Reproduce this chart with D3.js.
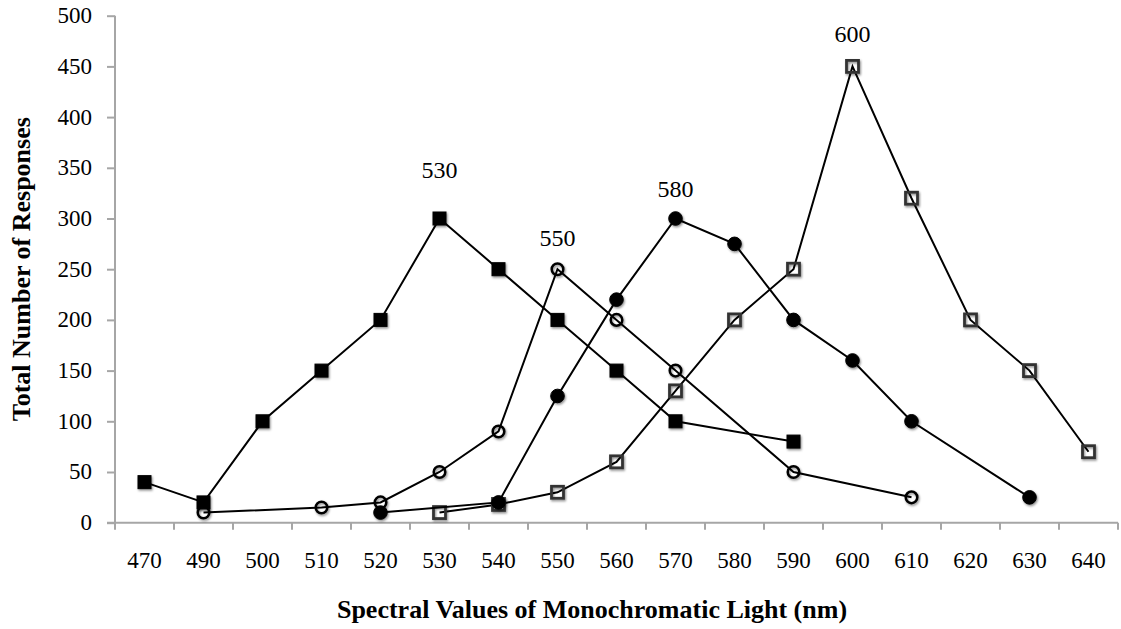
<!DOCTYPE html>
<html>
<head>
<meta charset="utf-8">
<script src="https://cdn.jsdelivr.net/npm/d3@7"></script>
<style>
  html, body { margin: 0; padding: 0; background: #fff; }
  svg { display: block; }
  text { font-family: "Liberation Serif", "Times New Roman", serif; fill: #000; }
</style>
</head>
<body>
<svg id="chart" width="1121" height="629"></svg>
<script>
// Wavelength categories (nm) along the x axis
const categories = ["470","490","500","510","520","530","540","550","560","570","580","590","600","610","620","630","640"];

// Response counts per wavelength; null = not tested (line connects across)
const series530 = [40, 20, 100, 150, 200, 300, 250, 200, 150, 100, null, 80, null, null, null, null, null];
const series550 = [null, 10, null, 15, 20, 50, 90, 250, 200, 150, null, 50, null, 25, null, null, null];
const series600 = [null, null, null, null, null, 10, 18, 30, 60, 130, 200, 250, 450, 320, 200, 150, 70];
const series580 = [null, null, null, null, 10, null, 20, 125, 220, 300, 275, 200, 160, 100, null, 25, null];

const yTicks = [0, 50, 100, 150, 200, 250, 300, 350, 400, 450, 500];

// Series in drawing order, with marker style and peak label
const seriesList = [
  { name: "600", values: series600, marker: "square", filled: false, peak: "600" },
  { name: "550", values: series550, marker: "circle", filled: false, peak: "550" },
  { name: "530", values: series530, marker: "square", filled: true,  peak: "530" },
  { name: "580", values: series580, marker: "circle", filled: true,  peak: "580" }
];

const svg = d3.select("#chart");
const plot = { left: 115, right: 1118, top: 15.7, bottom: 522.7 };

const x = d3.scaleBand().domain(categories).range([plot.left, plot.right]).padding(0);
const y = d3.scaleLinear().domain([0, 500]).range([plot.bottom, plot.top]);

const defs = svg.append("defs");
const shadow = defs.append("filter").attr("id", "mshadow")
  .attr("x", "-50%").attr("y", "-50%").attr("width", "200%").attr("height", "200%");
shadow.append("feDropShadow").attr("dx", 1).attr("dy", 1.5).attr("stdDeviation", 1.2)
  .attr("flood-color", "#000").attr("flood-opacity", 0.45);

const axisColor = "#a6a6a6";

// Y axis
const yAxis = svg.append("g")
  .attr("transform", `translate(${plot.left},0)`)
  .call(d3.axisLeft(y).tickValues(yTicks).tickSize(8).tickPadding(15).tickFormat(d3.format("d")));
yAxis.select(".domain").attr("stroke", axisColor).attr("stroke-width", 2)
  .attr("d", `M0,${plot.top}V${plot.bottom}`);
yAxis.selectAll(".tick line").attr("stroke", axisColor).attr("stroke-width", 2);
yAxis.selectAll(".tick text").attr("font-size", 23).attr("dy", "0.3em")
  .style("font-family", "'Liberation Serif', 'Times New Roman', serif");

// X axis: labels centred in each category band, ticks on band edges
const xAxis = svg.append("g")
  .attr("transform", `translate(0,${plot.bottom})`)
  .call(d3.axisBottom(x).tickSize(0).tickPadding(29));
xAxis.select(".domain").attr("stroke", axisColor).attr("stroke-width", 2)
  .attr("d", `M${plot.left - 8},0H${plot.right}`);
xAxis.selectAll(".tick text").attr("font-size", 23)
  .style("font-family", "'Liberation Serif', 'Times New Roman', serif");

const edges = categories.map(c => x(c)).concat([x(categories[categories.length - 1]) + x.bandwidth()]);
xAxis.selectAll(".edge").data(edges).enter().append("line")
  .attr("class", "edge")
  .attr("x1", d => d).attr("x2", d => d)
  .attr("y1", 0).attr("y2", 7)
  .attr("stroke", axisColor).attr("stroke-width", 2);

// Axis titles
svg.append("text")
  .attr("x", 592).attr("y", 618)
  .attr("text-anchor", "middle")
  .attr("font-size", 26).attr("font-weight", "bold")
  .text("Spectral Values of Monochromatic Light (nm)");

svg.append("text")
  .attr("transform", `translate(30,${(plot.top + plot.bottom) / 2}) rotate(-90)`)
  .attr("text-anchor", "middle")
  .attr("font-size", 26).attr("font-weight", "bold")
  .text("Total Number of Responses");

const cx = c => x(c) + x.bandwidth() / 2;

const line = d3.line().x(d => cx(d.cat)).y(d => y(d.v));

seriesList.forEach(s => {
  const pts = categories.map((c, i) => ({ cat: c, v: s.values[i] })).filter(d => d.v !== null);
  const g = svg.append("g");

  g.append("path")
    .datum(pts)
    .attr("d", line)
    .attr("fill", "none")
    .attr("stroke", "#000")
    .attr("stroke-width", 2);

  const m = g.selectAll(".m").data(pts).enter();
  if (s.marker === "square") {
    const size = s.filled ? 13 : 12;
    m.append("rect")
      .attr("x", d => cx(d.cat) - size / 2)
      .attr("y", d => y(d.v) - size / 2)
      .attr("width", size).attr("height", size)
      .attr("fill", s.filled ? "#000" : "#fff")
      .attr("fill-opacity", s.filled ? 1 : 0)
      .attr("stroke", s.filled ? "#000" : "#333")
      .attr("stroke-width", s.filled ? 1 : 2.8)
      .attr("filter", "url(#mshadow)");
  } else {
    const r = s.filled ? 6.8 : 5.8;
    m.append("circle")
      .attr("cx", d => cx(d.cat))
      .attr("cy", d => y(d.v))
      .attr("r", r)
      .attr("fill", s.filled ? "#000" : "#fff")
      .attr("fill-opacity", s.filled ? 1 : 0)
      .attr("stroke", "#000")
      .attr("stroke-width", s.filled ? 1 : 2.5)
      .attr("filter", "url(#mshadow)");
  }
});

// Peak labels above each series' maximum
const labelLift = { "530": 41, "550": 23, "580": 22, "600": 24 };
seriesList.forEach(s => {
  const i = s.values.indexOf(d3.max(s.values));
  svg.append("text")
    .attr("x", cx(categories[i]))
    .attr("y", y(s.values[i]) - labelLift[s.peak])
    .attr("text-anchor", "middle")
    .attr("font-size", 24)
    .text(s.peak);
});
</script>
</body>
</html>
